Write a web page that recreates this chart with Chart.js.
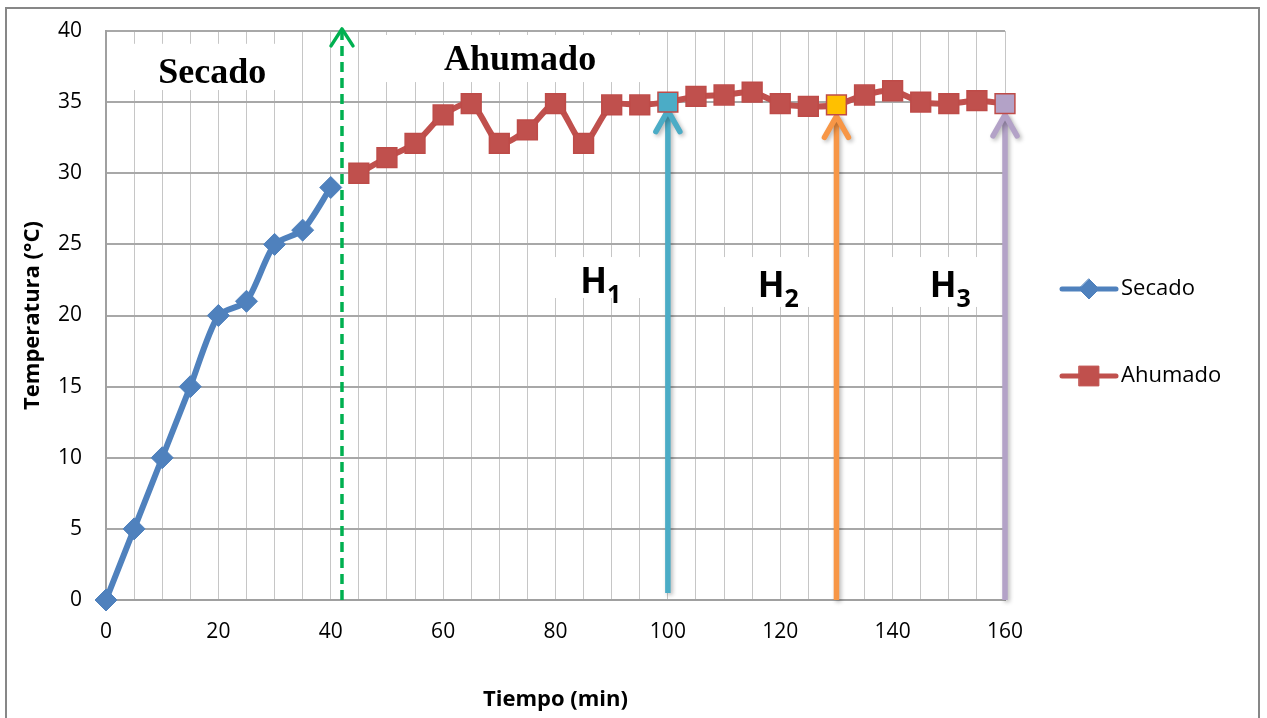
<!DOCTYPE html>
<html><head><meta charset="utf-8">
<script src="https://cdn.jsdelivr.net/npm/chart.js@4.4.1/dist/chart.umd.min.js"></script>
<style>html,body{margin:0;padding:0;background:#fff;}canvas{display:block}</style>
</head><body>
<canvas id="c" width="1267" height="718"></canvas>
<script>
// ---- data ----
const seriesNames = ['Secado', 'Ahumado'];
const secadoTime = [0, 5, 10, 15, 20, 25, 30, 35, 40];
const secadoTemp = [0, 5, 10, 15, 20, 21, 25, 26, 29];
const ahumadoTime = [45, 50, 55, 60, 65, 70, 75, 80, 85, 90, 95, 100, 105, 110, 115, 120, 125, 130, 135, 140, 145, 150, 155, 160];
const ahumadoTemp = [30, 31.1, 32.1, 34.1, 34.9, 32.1, 33.05, 34.9, 32.1, 34.8, 34.8, 35.0, 35.4, 35.5, 35.7, 34.9, 34.7, 34.8, 35.5, 35.8, 35.0, 34.9, 35.1, 34.9];
const xTickLabels = [0, 20, 40, 60, 80, 100, 120, 140, 160];
const yTickLabels = [0, 5, 10, 15, 20, 25, 30, 35, 40];
const phaseNames = ['Secado', 'Ahumado'];
const hNames = [['H', '1'], ['H', '2'], ['H', '3']];

// ---- annotation styling (data units) ----
const highlightColors = {100: '#4BACC6', 130: '#FFC000', 160: '#B3A2C7'};
const phaseText = [
  {x: 18.9, y: 36.35},
  {x: 73.7, y: 37.26}
];
const whiteBoxes = [
  [2.5, 39.1, 32.7, 35.85],
  [47.3, 39.72, 97.7, 36.41],
  [78.1, 24.11, 96.5, 21.23],
  [107.5, 24.11, 127.4, 20.6],
  [137.4, 24.11, 159.1, 20.6]
];
const hText = [
  {x: 84.4, y: 21.58},
  {x: 116.0, y: 21.3},
  {x: 146.6, y: 21.3}
];
const arrows = [
  {x: 42, from: 0, to: 40.15, color: '#00B050', width: 3.5, dash: [10, 6], arm: [11, 17], shadow: false},
  {x: 100, from: 0.5, to: 34.4, color: '#4BACC6', width: 5.5, dash: [], arm: [12, 21], shadow: true},
  {x: 130, from: 0, to: 34.0, color: '#F79646', width: 5.5, dash: [], arm: [12, 21], shadow: true},
  {x: 160, from: 0, to: 34.1, color: '#B3A2C7', width: 5.5, dash: [], arm: [12, 21], shadow: true}
];

const toPts = (xs, ys) => xs.map((x, i) => ({x, y: ys[i]}));
const ahumadoFill = ahumadoTime.map(t => highlightColors[t] || '#C0504D');

function drawMarker(ctx, style, x, y, r, fill, stroke) {
  ctx.beginPath();
  if (style === 'rectRot') {
    ctx.moveTo(x, y - r); ctx.lineTo(x + r, y); ctx.lineTo(x, y + r); ctx.lineTo(x - r, y); ctx.closePath();
  } else {
    const s = Math.SQRT1_2 * r;
    ctx.rect(x - s, y - s, 2 * s, 2 * s);
  }
  ctx.fillStyle = fill; ctx.fill();
  ctx.lineWidth = 1; ctx.strokeStyle = stroke; ctx.stroke();
}

const annot = {
  id: 'annot',
  beforeDraw(chart) {
    const {ctx, width, height} = chart;
    ctx.save();
    ctx.fillStyle = '#fff';
    ctx.fillRect(0, 0, width, height);
    ctx.strokeStyle = '#878787';
    ctx.lineWidth = 2;
    ctx.strokeRect(6, 8, 1253, 740);
    ctx.restore();
  },
  beforeDatasetsDraw(chart) {
    const {ctx} = chart;
    const xs = chart.scales.x, ys = chart.scales.y;
    const px = v => xs.getPixelForValue(v), py = v => ys.getPixelForValue(v);
    ctx.save();
    ctx.fillStyle = '#fff';
    whiteBoxes.forEach(b => {
      ctx.fillRect(px(b[0]), py(b[1]), px(b[2]) - px(b[0]), py(b[3]) - py(b[1]));
    });
    ctx.fillStyle = '#000';
    ctx.font = 'bold 36px "Liberation Serif", "Times New Roman", serif';
    ctx.textAlign = 'center';
    ctx.textBaseline = 'alphabetic';
    phaseNames.forEach((t, i) => ctx.fillText(t, px(phaseText[i].x), py(phaseText[i].y)));
    ctx.textAlign = 'left';
    hNames.forEach((h, i) => {
      const x0 = px(hText[i].x), y0 = py(hText[i].y);
      ctx.font = 'bold 35px "Open Sans", sans-serif';
      ctx.fillText(h[0], x0, y0);
      const w = ctx.measureText(h[0]).width;
      ctx.font = 'bold 25px "Open Sans", sans-serif';
      ctx.fillText(h[1], x0 + w, y0 + 10);
    });
    arrows.forEach(a => {
      const x = px(a.x), yb = py(a.from), yt = py(a.to);
      ctx.save();
      if (a.shadow) {
        ctx.shadowColor = 'rgba(0,0,0,0.28)';
        ctx.shadowBlur = 4; ctx.shadowOffsetX = 2; ctx.shadowOffsetY = 2;
      }
      ctx.strokeStyle = a.color;
      ctx.lineWidth = a.width;
      ctx.setLineDash(a.dash);
      ctx.lineCap = 'butt';
      ctx.beginPath(); ctx.moveTo(x, yb); ctx.lineTo(x, yt + 1); ctx.stroke();
      ctx.setLineDash([]);
      ctx.lineCap = 'round'; ctx.lineJoin = 'round';
      ctx.beginPath();
      ctx.moveTo(x - a.arm[0], yt + a.arm[1]); ctx.lineTo(x, yt); ctx.lineTo(x + a.arm[0], yt + a.arm[1]);
      ctx.stroke();
      ctx.restore();
    });
    ctx.restore();
  },
  afterDraw(chart) {
    const {ctx, chartArea} = chart;
    const lx = chartArea.right + 57;
    const lys = [chartArea.top + 258, chartArea.top + 345];
    ctx.save();
    chart.data.datasets.forEach((ds, i) => {
      const y = lys[i];
      ctx.strokeStyle = ds.borderColor;
      ctx.lineWidth = 5; ctx.lineCap = 'round';
      ctx.beginPath(); ctx.moveTo(lx, y); ctx.lineTo(lx + 54, y); ctx.stroke();
      drawMarker(ctx, ds.pointStyle, lx + 27, y, i === 0 ? 10 : 14, ds.borderColor, ds.borderColor);
      ctx.fillStyle = '#000';
      ctx.font = '22px "Open Sans", sans-serif';
      ctx.textAlign = 'left'; ctx.textBaseline = 'middle';
      ctx.fillText(ds.label, lx + 59, y);
    });
    ctx.restore();
  }
};

new Chart(document.getElementById('c'), {
  type: 'line',
  data: {
    datasets: [
      {
        label: seriesNames[0],
        data: toPts(secadoTime, secadoTemp),
        borderColor: '#4F81BD', backgroundColor: '#4F81BD',
        borderWidth: 6, tension: 0.25,
        pointStyle: 'rectRot', pointRadius: 11, pointBorderWidth: 1,
        pointBackgroundColor: '#4F81BD', pointBorderColor: '#4F81BD',
        clip: false
      },
      {
        label: seriesNames[1],
        data: toPts(ahumadoTime, ahumadoTemp),
        borderColor: '#C0504D', backgroundColor: '#C0504D',
        borderWidth: 6, tension: 0.25,
        pointStyle: 'rect', pointRadius: 14, pointBorderWidth: 1.5,
        pointBackgroundColor: ahumadoFill, pointBorderColor: '#BE4B48',
        clip: false
      }
    ]
  },
  options: {
    responsive: false,
    devicePixelRatio: 1,
    animation: false,
    layout: {padding: {top: 31, right: 262, left: 0, bottom: 0}},
    plugins: {legend: {display: false}, tooltip: {enabled: false}},
    scales: {
      x: {
        type: 'linear', min: 0, max: 160,
        afterFit: s => { s.height = 118; s.paddingLeft = 0; s.paddingRight = 0; },
        grid: {color: '#C6C6C6', lineWidth: 1, drawTicks: false},
        border: {color: '#A0A0A0', width: 2},
        ticks: {
          stepSize: 5, autoSkip: false, maxRotation: 0, padding: 19, color: '#000',
          font: {family: '"Open Sans", sans-serif', size: 21},
          callback: v => xTickLabels.includes(v) ? String(v) : ''
        },
        title: {display: true, text: 'Tiempo (min)', color: '#000',
          font: {family: '"Open Sans", sans-serif', size: 22, weight: 'bold'},
          padding: {top: 0, bottom: 5}}
      },
      y: {
        min: 0, max: 40,
        afterFit: s => { s.width = 106; s.paddingTop = 0; s.paddingBottom = 0; },
        grid: {color: '#A8A8A8', lineWidth: 2, drawTicks: false},
        border: {color: '#A0A0A0', width: 2},
        ticks: {
          stepSize: 5, padding: 24, color: '#000',
          font: {family: '"Open Sans", sans-serif', size: 21},
          callback: v => yTickLabels.includes(v) ? String(v) : ''
        },
        title: {display: true, text: 'Temperatura (°C)', color: '#000',
          font: {family: '"Open Sans", sans-serif', size: 22, weight: 'bold'},
          padding: {top: 20, bottom: 0}}
      }
    }
  },
  plugins: [annot]
});
</script>
</body></html>
